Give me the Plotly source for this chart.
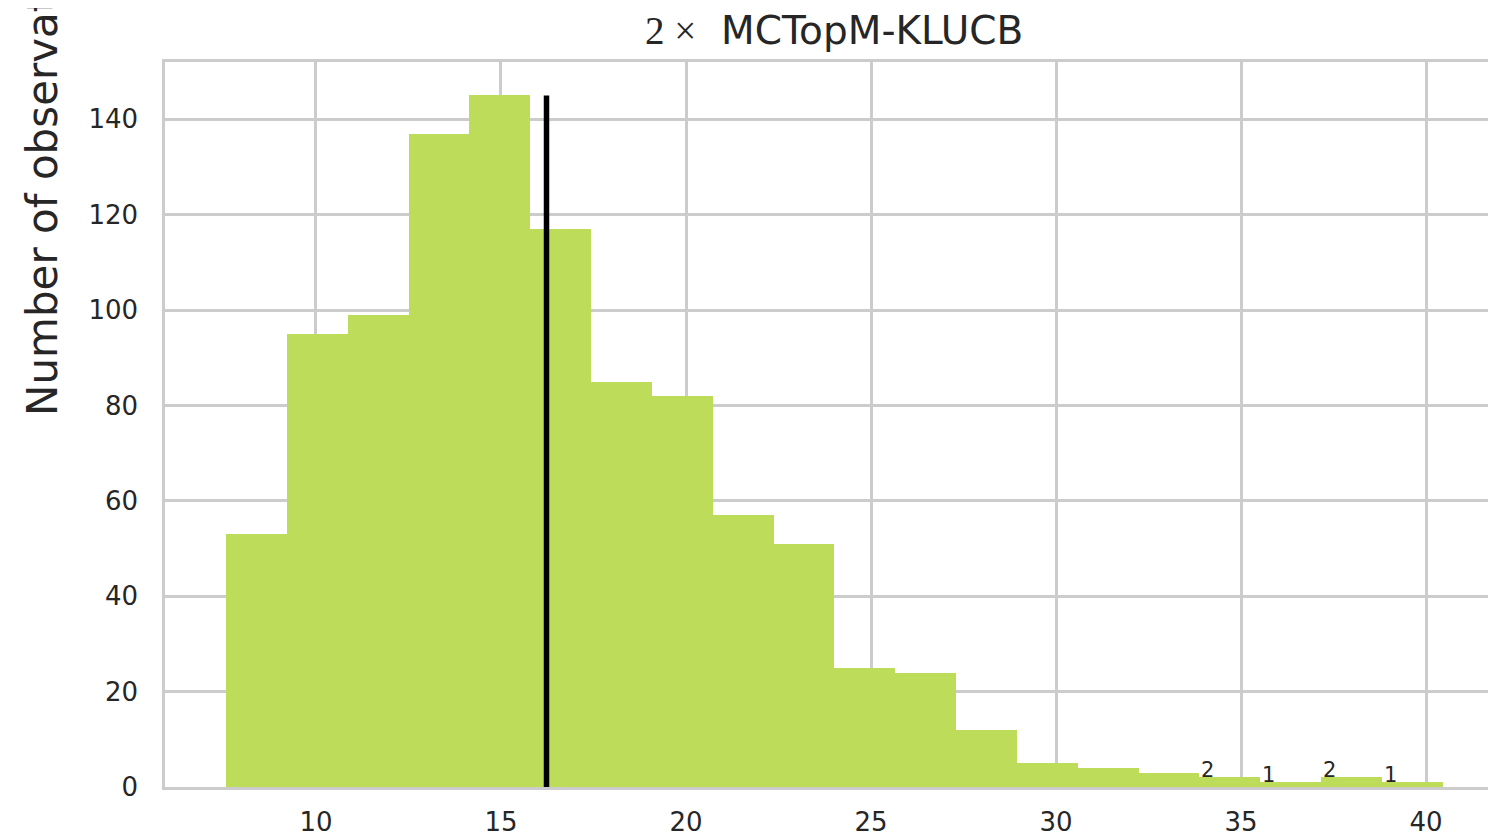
import numpy as np
import plotly.graph_objects as go

# ---- data ----
counts = [53, 95, 99, 137, 145, 117, 85, 82, 57, 51, 25, 24, 12, 5, 4, 3, 2, 1, 2, 1]
hist_min = 7.57
hist_max = 40.45
mean_value = 16.23
title_prefix = "2 ×"
title_name = "MCTopM-KLUCB"
y_label = "Number of observations"
x_ticks = [10, 15, 20, 25, 30, 35, 40]
y_ticks = [0, 20, 40, 60, 80, 100, 120, 140]

n_bins = len(counts)
edges = np.linspace(hist_min, hist_max, n_bins + 1)
centers = (edges[:-1] + edges[1:]) / 2
width = edges[1] - edges[0]

# the page body has an 8px default margin -> compensate
OFF = 8
W, H = 1496 - OFF, 835 - OFF
ml, mt, mr = 165 - OFF, 62 - OFF, 0
mb = H - (787 - OFF)
plot_w = W - ml - mr
plot_h = H - mt - mb
FONT = "DejaVu Sans"
TXT = "#262626"
GRID = "#cccccc"


def px_x(sx):
    return (sx - 165) / plot_w


def px_y(sy):
    return (787 - sy) / plot_h


fig = go.Figure()
fig.add_trace(go.Bar(
    x=centers, y=counts, width=width,
    marker=dict(color="#bcdc5a", line=dict(width=0)),
    showlegend=False, hoverinfo="x+y",
))
fig.add_trace(go.Scatter(
    x=[mean_value, mean_value], y=[0, max(counts)], mode="lines",
    line=dict(color="black", width=5.5), showlegend=False,
))

annotations = []
for left, c in zip(edges[:-1], counts):
    if c <= 2:
        annotations.append(dict(
            x=left, y=c, xref="x", yref="y", text=str(c), showarrow=False,
            xanchor="left", yanchor="bottom", xshift=0, yshift=-7,
            font=dict(family=FONT, size=21, color=TXT),
        ))

# title
annotations.append(dict(
    x=px_x(834), y=px_y(30), xref="paper", yref="paper",
    text='<span style="font-family:\'Liberation Serif\'">' + title_prefix + '</span>&nbsp;&nbsp;' + title_name,
    showarrow=False, xanchor="center", yanchor="middle",
    font=dict(family=FONT, size=39, color=TXT),
))
# y-axis label (partially off-canvas in the reference)
annotations.append(dict(
    x=px_x(42), y=px_y(163), xref="paper", yref="paper",
    text=y_label, textangle=-90, showarrow=False,
    xanchor="center", yanchor="middle",
    font=dict(family=FONT, size=42, color=TXT),
))

fig.update_layout(
    width=W, height=H,
    margin=dict(l=ml, r=mr, t=mt, b=mb, pad=0, autoexpand=False),
    paper_bgcolor="white", plot_bgcolor="white",
    bargap=0,
    font=dict(family=FONT, color=TXT),
    annotations=annotations,
)
fig.update_xaxes(
    range=[5.92, 41.89], tickvals=x_ticks, ticktext=[str(v) for v in x_ticks],
    showgrid=True, gridcolor=GRID, gridwidth=2.5,
    showline=True, linecolor=GRID, linewidth=2.5, mirror=True,
    zeroline=False, ticks="", ticklabelstandoff=10, automargin=False,
    tickfont=dict(family=FONT, size=26, color=TXT),
)
fig.update_yaxes(
    range=[0, 152], tickvals=y_ticks, ticktext=[str(v) for v in y_ticks],
    showgrid=True, gridcolor=GRID, gridwidth=2.5,
    showline=True, linecolor=GRID, linewidth=2.5, mirror=False,
    zeroline=False, ticks="", ticklabelstandoff=19, automargin=False,
    tickfont=dict(family=FONT, size=26, color=TXT),
)

fig.write_html("out.html")
